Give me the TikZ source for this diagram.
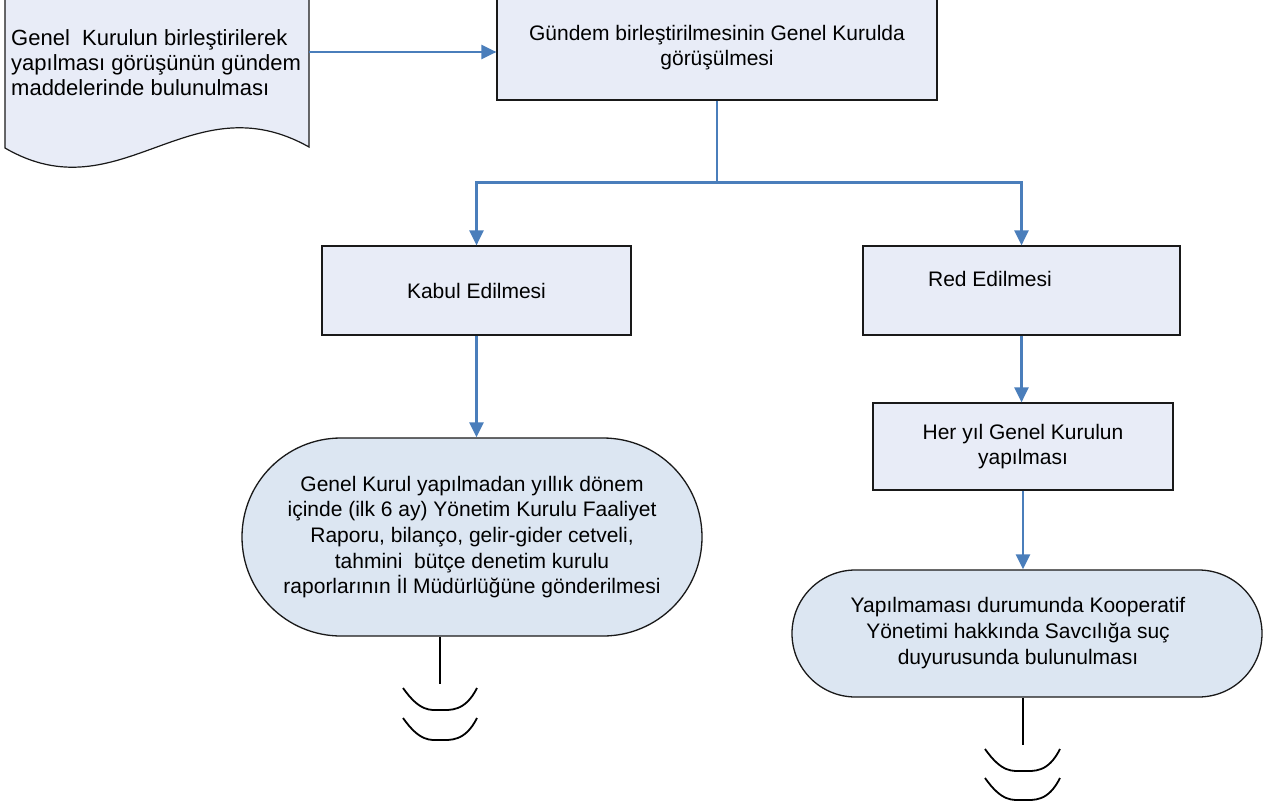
\documentclass[tikz,border=0pt]{standalone}
\usepackage{fontspec}
\setmainfont{Liberation Sans}
\usetikzlibrary{arrows.meta,shapes.misc}
\definecolor{conn}{HTML}{4A7EBB}
\definecolor{boxfill}{HTML}{E8ECF7}
\definecolor{termfill}{HTML}{DCE6F2}
\begin{document}
\begin{tikzpicture}[x=1pt,y=-1pt,
  font=\fontsize{21}{25.7}\selectfont,
  box/.style={draw=black!90, line width=1.2pt, fill=boxfill, rectangle, inner sep=0pt, align=center},
  term/.style={draw=black!90, line width=1.3pt, fill=termfill, rounded rectangle, inner sep=0pt, align=center},
  arr/.style={draw=conn, line width=2.4pt, -{Triangle[length=15pt,width=14pt]}},
  conline/.style={draw=conn, line width=2.4pt},
  endline/.style={draw=black, line width=1.8pt},
  txt/.style={inner sep=0pt, align=center}]
\useasboundingbox (0,0) rectangle (1264,806);

% document shape
\draw[fill=boxfill, draw=black!90, line width=1.2pt]
  (5,-5) -- (5,148) .. controls (120,215) and (190,80) .. (309,147) -- (309,-5) -- cycle;
\node[inner sep=0pt, align=left, anchor=west, font=\fontsize{22}{25}\selectfont] (doctext) at (11,63)
  {Genel\ \ Kurulun birleştirilerek\\yapılması görüşünün gündem\\maddelerinde bulunulması};
\coordinate (docout) at (309,52);

\node[box, minimum width=440pt, minimum height=105pt] (gundem) at (717,47.5)
  {Gündem birleştirilmesinin Genel Kurulda\\görüşülmesi};

\node[box, minimum width=309pt, minimum height=89pt] (kabul) at (476.5,290.5) {Kabul Edilmesi};
\node[box, minimum width=317pt, minimum height=89pt] (red) at (1021.5,290.5) {};
\node[txt] (redtxt) at (990,279) {Red Edilmesi};
\node[box, minimum width=300pt, minimum height=87pt] (her) at (1023,446.5)
  {Her yıl Genel Kurulun\\yapılması};

\node[term, minimum width=460pt, minimum height=198pt] (lterm) at (472,537)
  {Genel Kurul yapılmadan yıllık dönem\\içinde (ilk 6 ay) Yönetim Kurulu Faaliyet\\Raporu, bilanço, gelir-gider cetveli,\\tahmini\ \ bütçe denetim kurulu\\raporlarının İl Müdürlüğüne gönderilmesi};
\node[term, minimum width=470pt, minimum height=127pt] (rterm) at (1027,633.5) {};
\node[txt] (rtermtxt) at (1018,633)
  {Yapılmaması durumunda Kooperatif\\Yönetimi hakkında Savcılığa suç\\duyurusunda bulunulması};

% connectors
\draw[arr] (docout) -- (docout -| gundem.west);
\draw[conline] (gundem.south) -- ++(0,82) coordinate (split);
\draw[arr] (split) -| (kabul.north);
\draw[arr] (split) -| (red.north);
\draw[arr] (kabul.south) -- (lterm.north -| kabul.south);
\draw[arr] (red.south) -- (her.north -| red.south);
\draw[arr] (her.south) -- (rterm.north -| her.south);

% continuation marks
\draw[endline] ([xshift=-32pt]lterm.south) -- ++(0,47);
\draw[endline] (403,688) .. controls (420,712) and (430,710) .. (440,710) .. controls (450,710) and (465,712) .. (477,688);
\draw[endline] (403,718) .. controls (420,742) and (430,740) .. (440,740) .. controls (450,740) and (465,742) .. (477,718);
\draw[endline] ([xshift=-4pt]rterm.south) -- ++(0,47);
\draw[endline] (985,749) .. controls (1002,773) and (1012,771) .. (1023,771) .. controls (1034,771) and (1048,773) .. (1060,749);
\draw[endline] (985,778) .. controls (1002,802) and (1012,800) .. (1023,800) .. controls (1034,800) and (1048,802) .. (1060,778);
\end{tikzpicture}
\end{document}
